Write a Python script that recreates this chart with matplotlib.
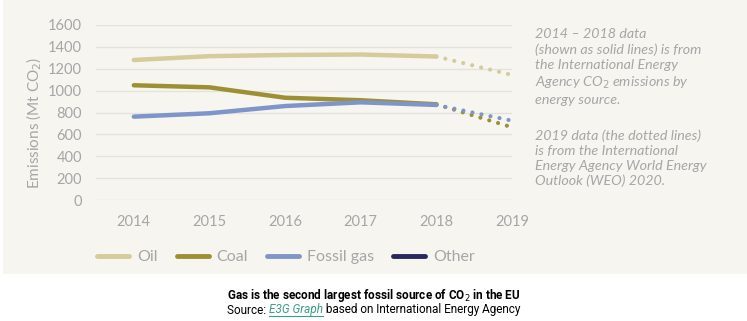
import matplotlib
matplotlib.use("Agg")
import matplotlib.pyplot as plt
import matplotlib.patches as patches
from matplotlib.lines import Line2D

years = ["2014", "2015", "2016", "2017", "2018", "2019"]
oil = [1280, 1315, 1326, 1330, 1312, 1143]
coal = [1049, 1030, 935, 912, 875, 665]
gas = [762, 793, 859, 893, 869, 725]

series = [("Oil", oil, "#d5cb9b"), ("Coal", coal, "#9d9033"), ("Fossil gas", gas, "#7f94c9")]
other_color = "#28285c"

bg = "#f6f5f0"
grey = "#a6a6a6"

fig = plt.figure(figsize=(7.47, 3.21), dpi=100)
fig.patch.set_facecolor("white")
fig.patches.append(patches.Rectangle((3 / 747, 1 - 274 / 321), 1, 274 / 321,
                                     transform=fig.transFigure, facecolor=bg,
                                     edgecolor="none", zorder=-10))

ax = fig.add_axes([96 / 747, 1 - 200 / 321, 416 / 747, 175 / 321])
ax.patch.set_alpha(0)

x = list(range(len(years)))
for name, vals, col in series:
    ax.plot(x[:5], vals[:5], color=col, lw=3.2, solid_capstyle="round", clip_on=False)
    ax.plot(x[4:], vals[4:], color=col, lw=3.0, linestyle=(0, (0.01, 2.2)),
            dash_capstyle="round", clip_on=False)

ax.set_xlim(-0.5, 5.0)
ax.set_ylim(0, 1600)
ax.set_yticks(range(0, 1601, 200))
ax.set_xticks(x)
ax.set_xticklabels(years)
ax.grid(axis="y", color="#e3e2dc", lw=1)
ax.set_axisbelow(True)
for s in ax.spines.values():
    s.set_visible(False)
ax.tick_params(length=0, colors=grey, labelsize=10.5, pad=10)
ax.tick_params(axis="x", pad=11)
for lab in ax.get_xticklabels() + ax.get_yticklabels():
    lab.set_family("Lato")
ax.set_ylabel("Emissions (Mt CO$_2$)", color=grey, fontsize=11, family="Lato")
ax.yaxis.set_label_coords(-0.125, 0.44)

handles = [Line2D([], [], color=c, lw=3.5, solid_capstyle="round") for _, _, c in series]
handles.append(Line2D([], [], color=other_color, lw=3.5, solid_capstyle="round"))
labels = [n for n, _, _ in series] + ["Other"]
leg = fig.legend(handles, labels, ncol=4, loc="center left",
                 bbox_to_anchor=(97 / 747, 1 - 257 / 321), frameon=False,
                 borderpad=0, borderaxespad=0,
                 handlelength=2.0, columnspacing=1.2, handletextpad=0.5,
                 prop={"family": "Lato", "size": 11.5})
for t in leg.get_texts():
    t.set_color(grey)

note1 = ("2014 \u2013 2018 data\n(shown as solid lines) is from\nthe International Energy\n"
         "Agency CO$_2$ emissions by\nenergy source.")
note2 = ("2019 data (the dotted lines)\nis from the International\n"
         "Energy Agency World Energy\nOutlook (WEO) 2020.")
note_kw = dict(ha="left", va="top", style="italic", color=grey, fontsize=10.3,
               family="Lato", linespacing=1.3)
fig.text(535 / 747, 1 - 28 / 321, note1, **note_kw)
fig.text(535 / 747, 1 - 129 / 321, note2, **note_kw)

fig.text(0.5, 1 - 295 / 321, "Gas is the second largest fossil source of CO$_2$ in the EU",
         ha="center", va="center", fontsize=8.5, fontweight="bold",
         family="Roboto", color="black")

# source line built from pieces
fig.canvas.draw()
r = fig.canvas.get_renderer()
parts = [("Source: ", {}), ("E3G Graph", {"style": "italic", "color": "#3a9e8a"}),
         (" based on International Energy Agency", {})]
objs = []
for s, kw in parts:
    kw2 = dict(fontsize=8.5, family="Roboto", color="black")
    kw2.update(kw)
    objs.append(fig.text(0, 1 - 310 / 321, s, va="center", **kw2))
widths = [o.get_window_extent(r).width for o in objs]
total = sum(widths)
xpix = 747 / 2 - total / 2
for o, w in zip(objs, widths):
    o.set_x(xpix / 747)
    xpix += w
fig.canvas.draw()
bb = objs[1].get_window_extent(r)
fig.add_artist(Line2D([bb.x0 / 747, bb.x1 / 747], [(bb.y0 + 0.5) / 321] * 2,
                      color="#3a9e8a", lw=0.8, transform=fig.transFigure))

fig.savefig("out.png", dpi=100, facecolor="white")
